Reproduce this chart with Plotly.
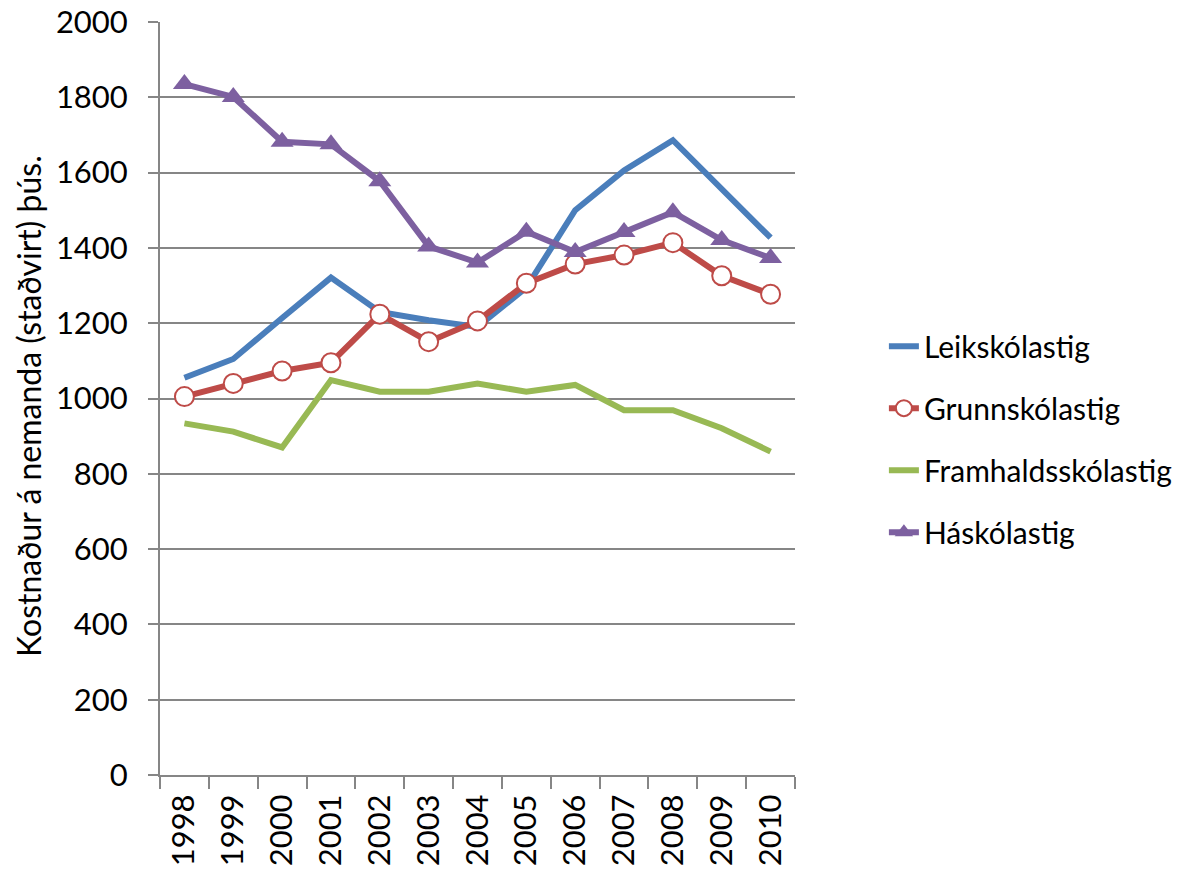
import plotly.graph_objects as go

years = ["1998", "1999", "2000", "2001", "2002", "2003", "2004",
         "2005", "2006", "2007", "2008", "2009", "2010"]
leikskolastig = [1055, 1105, 1214, 1321, 1230, 1208, 1190, 1295, 1500, 1606, 1686, 1557, 1427]
grunnskolastig = [1005, 1040, 1073, 1095, 1224, 1151, 1206, 1306, 1357, 1381, 1414, 1326, 1277]
framhaldsskolastig = [934, 912, 870, 1049, 1018, 1018, 1040, 1018, 1036, 969, 969, 921, 859]
haskolastig = [1835, 1801, 1682, 1675, 1577, 1404, 1361, 1443, 1389, 1442, 1495, 1421, 1373]

names = ["Leikskólastig", "Grunnskólastig", "Framhaldsskólastig", "Háskólastig"]
y_title = "Kostnaður á nemanda (staðvirt) þús."

C_BLUE = "#4A7EBB"
C_RED = "#BE4B48"
C_GREEN = "#98B954"
C_PURPLE = "#7D60A0"
GRID = "#868686"

fig = go.Figure()
fig.add_trace(go.Scatter(x=years, y=leikskolastig, name=names[0], mode="lines",
                         line=dict(color=C_BLUE, width=6), legendgroup="a"))
fig.add_trace(go.Scatter(x=years, y=grunnskolastig, name=names[1], mode="lines+markers",
                         line=dict(color=C_RED, width=6),
                         marker=dict(symbol="circle", size=19, color="white",
                                     line=dict(color=C_RED, width=2)),
                         legendgroup="b"))
fig.add_trace(go.Scatter(x=years, y=framhaldsskolastig, name=names[2], mode="lines",
                         line=dict(color=C_GREEN, width=6), legendgroup="c"))
fig.add_trace(go.Scatter(x=years, y=haskolastig, name=names[3], mode="lines+markers",
                         line=dict(color=C_PURPLE, width=6),
                         marker=dict(symbol="triangle-up", size=20, color=C_PURPLE,
                                     line=dict(width=0)),
                         legendgroup="d"))

fig.update_layout(
    width=1192, height=875,
    margin=dict(l=160, r=397, t=22, b=100),
    paper_bgcolor="white", plot_bgcolor="white",
    font=dict(family="Lato", color="black", size=31),
    showlegend=True,
    legend=dict(x=1.14, xanchor="left", y=0.446, yanchor="middle",
                traceorder="grouped", tracegroupgap=20,
                font=dict(family="Lato", size=30, color="black"),
                bgcolor="rgba(0,0,0,0)"),
    xaxis=dict(type="category", tickson="boundaries", ticks="outside", ticklen=12,
               tickwidth=2, tickcolor=GRID, showline=True, linecolor=GRID, linewidth=2,
               showgrid=False, tickangle=-90, tickfont=dict(family="Lato", size=31),
               ticklabelstandoff=5, ticklabeloverflow="allow", automargin=False,
               range=[-0.5, 12.5]),
    yaxis=dict(range=[0, 2000], dtick=200, ticks="outside", ticklen=10, tickwidth=2,
               tickcolor=GRID, showline=True, linecolor=GRID, linewidth=2,
               showgrid=True, gridcolor=GRID, gridwidth=2, zeroline=False,
               tickfont=dict(family="Lato", size=31), ticklabelstandoff=14,
               ticklabeloverflow="allow", automargin=False),
    annotations=[dict(text=y_title, xref="paper", yref="paper", x=-0.208, y=0.49,
                      xanchor="center", yanchor="middle", textangle=-90, showarrow=False,
                      font=dict(family="Lato", size=32, color="black"))],
)

fig.write_html("out.html", config={"displayModeBar": False},
               post_script="document.body.style.margin='0';document.body.style.overflow='hidden';")
